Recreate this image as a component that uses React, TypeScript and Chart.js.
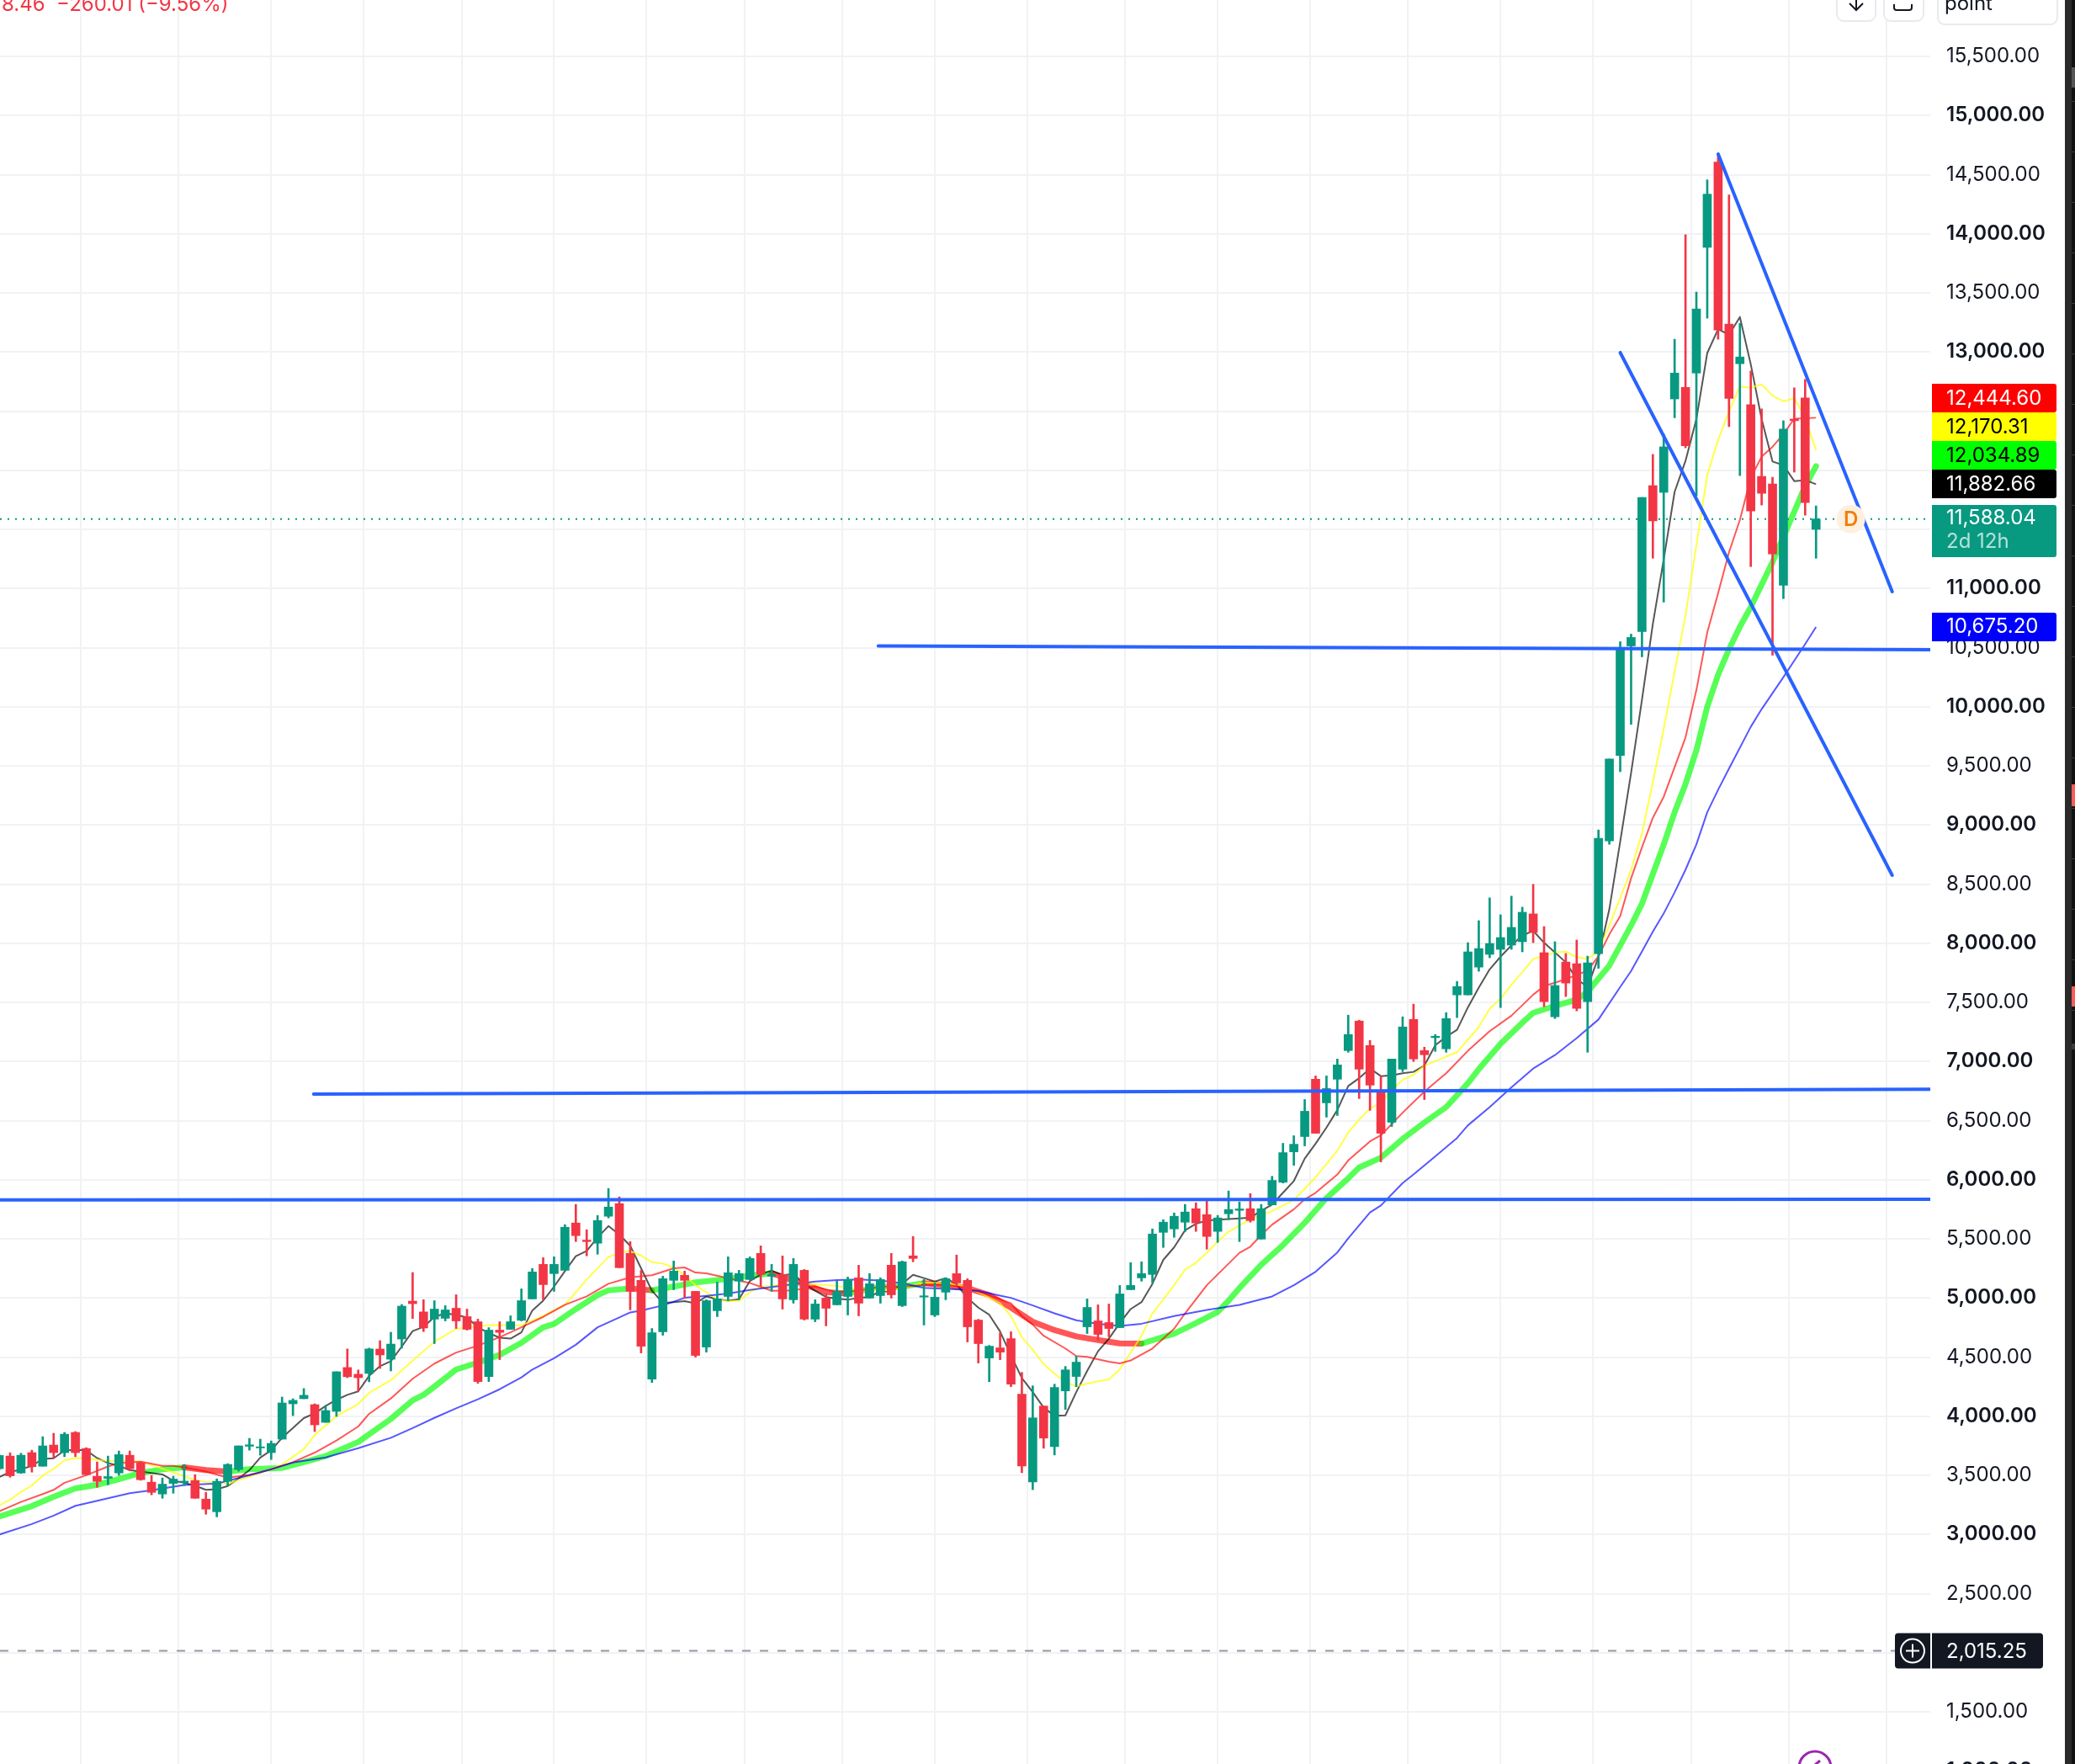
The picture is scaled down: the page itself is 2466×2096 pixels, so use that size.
import React, { useEffect, useRef } from "react";
import { Chart, registerables } from "chart.js";

Chart.register(...registerables);

// Candles, starting at bar index -1
const firstBar = -1;
const opens = [
  3556,3663,3520,3692,3577,3756,3692,3863,3727,3492,
  3475,3520,3670,3606,3442,3342,3432,3439,3456,3299,
  3192,3449,3549,3746,3732,3692,3806,4105,4148,4098,
  3948,4041,4412,4355,4362,4568,4482,4653,4973,
  4882,4821,4828,4913,4842,4799,4335,4728,4735,4811,
  4992,5284,5206,5234,5634,5489,5463,5691,5798,5377,
  5149,4314,4714,5149,5192,5056,4585,4892,5013,5142,
  5156,5377,5184,5199,4985,5234,4821,4999,4942,5013,
  5170,4999,5020,5277,4935,5356,5008,4856,5049,5206,
  5149,4813,4492,4578,4656,4186,3444,4086,3743,4214,
  4336,4756,4806,4792,4749,5070,5170,5199,5555,5584,
  5641,5755,5705,5563,5712,5741,5755,5498,5787,5979,
  6236,6365,6850,6650,6850,7092,7342,7135,6750,6486,
  6935,7356,7092,7202,7107,7563,7563,7798,7906,7948,
  7984,8013,8248,7920,7378,7841,7827,7506,7912,8866,
  9587,10514,10636,11870,11813,12603,12701,12822,13885,14606,
  13236,12901,12555,11948,11884,11028,12433,12612,11500,
];
const highs = [
  3675,3691,3687,3713,3827,3856,3863,3870,3734,3613,
  3663,3706,3706,3613,3499,3478,3492,3592,3506,3356,
  3470,3599,3749,3813,3806,3791,4162,4148,4234,4105,
  4091,4376,4569,4391,4576,4639,4710,4945,5215,
  4985,4977,4935,5027,4906,4821,4749,4799,4849,5077,
  5249,5341,5348,5620,5791,5577,5698,5926,5855,5477,
  5234,4742,5184,5313,5227,5056,4985,5134,5348,5234,
  5348,5441,5284,5356,5334,5241,4985,5034,5142,5177,
  5277,5206,5170,5377,5313,5520,5156,5127,5170,5363,
  5163,4820,4599,4706,4714,4371,4257,4086,4271,4421,
  4507,4992,4942,4949,5106,5299,5306,5584,5662,5719,
  5791,5805,5819,5698,5905,5812,5883,5791,6029,6308,
  6372,6678,6878,6878,7021,7392,7349,7178,6878,7021,
  7378,7485,7121,7228,7413,7677,8005,8191,8384,8241,
  8398,8305,8498,8141,8013,7913,8027,7891,8958,9558,
  10550,10614,11770,12134,12305,13108,13992,13507,14456,14668,
  14328,13243,12840,12519,11941,12419,12697,12769,11698,
];
const lows = [
  3545,3484,3516,3527,3577,3649,3658,3658,3501,3399,
  3420,3499,3537,3458,3335,3306,3349,3413,3306,3171,
  3149,3409,3535,3713,3670,3634,3806,4005,4148,3870,
  3948,3998,4326,4212,4291,4404,4383,4575,4826,
  4716,4614,4806,4742,4728,4278,4293,4478,4735,4806,
  4992,4985,5056,5234,5477,5356,5370,5677,5256,4899,
  4535,4285,4685,5070,4999,4500,4542,4842,4977,4985,
  5156,5099,5056,4906,4956,4813,4799,4764,4942,4856,
  4849,4999,4956,4999,4927,5306,4771,4842,4985,5108,
  4628,4450,4292,4478,4250,3522,3379,3729,3672,4057,
  4250,4699,4642,4671,4749,5070,5142,5127,5427,5513,
  5560,5563,5413,5470,5662,5477,5641,5498,5787,5972,
  6122,6286,6393,6529,6543,7078,6686,6586,6151,6450,
  6914,7000,6678,7085,7078,7371,7563,7763,7877,7456,
  7948,7927,8005,7463,7363,7549,7428,7078,7788,8837,
  9451,9851,10422,11256,10885,12444,12190,11784,13286,13108,
  12369,11955,11185,11706,10436,10914,11984,11620,11256,
];
const closes = [
  3668,3496,3670,3573,3749,3692,3848,3692,3506,3449,
  3489,3675,3556,3463,3356,3425,3468,3451,3306,3214,
  3449,3592,3749,3758,3741,3770,4112,4134,4177,3927,
  4048,4376,4334,4326,4569,4518,4610,4931,4952,
  4746,4906,4899,4806,4735,4293,4728,4709,4799,4977,
  5220,5113,5284,5598,5527,5477,5655,5769,5256,5056,
  4592,4706,5163,5227,5149,4514,4977,4992,5213,5206,
  5334,5199,5199,4992,5284,4821,4949,4913,5056,5156,
  4956,5120,5156,5027,5306,5334,5018,5006,5163,5127,
  4756,4614,4592,4542,4271,3579,3986,3815,4243,4392,
  4457,4920,4692,4742,5034,5106,5206,5541,5641,5691,
  5727,5634,5520,5677,5748,5753,5655,5755,5994,6229,
  6300,6579,6393,6771,6971,7228,6935,6800,6393,7021,
  7292,7021,7057,7213,7363,7634,7927,7955,7998,8048,
  8134,8262,8091,7506,7642,7663,7449,7834,8887,9558,
  10500,10586,11770,11572,12198,12822,12207,13364,14335,13186,
  12608,12958,11656,11805,11292,12348,12419,11727,11588,
];

// Moving averages as [bar, value]
const blueMA = [[-1,2999],[2,3088],[4,3159],[6,3242],[9,3306],[11,3349],[13,3373],[16,3418],[19,3430],[20,3454],[23,3525],[26,3608],[29,3651],[32,3730],[35,3818],[37,3900],[39,3986],[41,4067],[43,4143],[45,4228],[47,4328],[48,4395],[50,4490],[52,4604],[54,4752],[56,4835],[57,4878],[58,4894],[60,4937],[62,5001],[64,5018],[66,5037],[68,5068],[70,5092],[72,5115],[74,5139],[76,5151],[78,5156],[80,5148],[82,5125],[84,5085],[87,5073],[89,5061],[91,5020],[92,5001],[94,4937],[96,4870],[98,4811],[100,4782],[102,4763],[104,4782],[107,4847],[110,4899],[113,4942],[116,5013],[118,5108],[120,5222],[122,5385],[123,5505],[125,5723],[126,5782],[128,5972],[129,6044],[131,6198],[133,6353],[134,6460],[136,6614],[138,6781],[140,6940],[142,7054],[144,7197],[146,7355],[148,7630],[149,7765],[150,7931],[151,8098],[152,8252],[153,8430],[154,8621],[155,8835],[156,9108],[157,9298],[158,9477],[160,9830],[161,9980],[162,10115],[163,10250],[164,10390],[165,10530],[166,10675]];

const thickMA = [[-1,3152],[2,3240],[4,3318],[6,3390],[8,3420],[10,3468],[12,3520],[14,3551],[16,3568],[18,3544],[20,3532],[22,3551],[25,3563],[27,3611],[29,3663],[32,3782],[35,3977],[37,4134],[38,4180],[39,4250],[41,4395],[43,4454],[45,4519],[47,4621],[49,4752],[50,4780],[52,4906],[54,5025],[55,5065],[57,5080],[59,5065],[61,5096],[63,5132],[66,5161],[68,5191],[70,5208],[71,5180],[73,5115],[75,5049],[77,5037],[80,5096],[82,5096],[84,5125],[86,5108],[88,5084],[90,5025],[92,4918],[94,4799],[96,4728],[98,4675],[100,4644],[102,4616],[104,4614],[107,4699],[109,4787],[111,4882],[112,4977],[113,5084],[115,5280],[117,5448],[119,5636],[121,5845],[123,6012],[124,6103],[126,6186],[128,6345],[130,6484],[132,6614],[134,6816],[135,6935],[137,7149],[139,7328],[140,7411],[142,7470],[144,7523],[145,7589],[147,7812],[149,8150],[150,8335],[151,8585],[152,8835],[153,9108],[154,9346],[155,9631],[156,10000],[157,10272],[158,10486],[159,10676],[160,10843],[161,11033],[162,11223],[163,11437],[164,11651],[165,11865],[166,12035]];

const yellowMA = [[-1,3247],[0,3294],[1,3361],[2,3413],[3,3497],[4,3556],[5,3627],[6,3646],[7,3644],[9,3620],[10,3627],[12,3615],[14,3556],[15,3525],[17,3461],[18,3444],[19,3449],[20,3425],[21,3461],[23,3520],[25,3592],[27,3722],[28,3841],[30,4001],[32,4103],[33,4198],[35,4305],[37,4470],[39,4630],[41,4740],[44,4771],[47,4768],[49,4847],[51,4942],[53,5156],[55,5346],[56,5382],[57,5398],[58,5358],[59,5303],[60,5291],[61,5256],[62,5192],[63,5108],[64,5049],[65,4989],[66,4973],[67,4977],[68,5049],[69,5096],[70,5101],[72,5120],[74,5115],[76,5101],[78,5072],[80,5060],[82,5084],[84,5132],[86,5125],[88,5096],[89,5049],[91,4954],[92,4847],[93,4668],[94,4561],[95,4442],[96,4359],[97,4288],[98,4252],[99,4276],[100,4295],[101,4312],[102,4395],[103,4538],[104,4680],[105,4870],[106,4989],[107,5108],[108,5239],[109,5298],[110,5382],[111,5477],[112,5560],[114,5667],[115,5703],[116,5734],[118,5829],[120,6020],[122,6246],[123,6400],[124,6507],[125,6602],[126,6650],[127,6757],[128,6845],[129,6888],[130,6964],[132,7042],[133,7078],[134,7185],[135,7292],[136,7447],[137,7530],[138,7649],[139,7756],[140,7867],[141,7891],[142,7922],[143,7929],[144,7882],[145,7867],[146,7934],[147,8148],[148,8383],[149,8621],[150,8930],[151,9360],[152,9815],[153,10295],[154,10771],[155,11366],[156,11960],[157,12257],[158,12495],[159,12709],[160,12697],[161,12726],[162,12631],[163,12583],[164,12609],[165,12447],[166,12170]];

const redMA = [[-1,3195],[1,3275],[3,3342],[4,3377],[5,3437],[7,3501],[9,3575],[10,3604],[12,3615],[14,3580],[15,3580],[16,3568],[18,3532],[20,3480],[22,3504],[24,3551],[26,3611],[28,3692],[30,3794],[32,3913],[33,4020],[35,4150],[37,4317],[39,4445],[41,4538],[43,4597],[45,4668],[47,4752],[49,4840],[51,4942],[53,5013],[55,5120],[57,5175],[59,5192],[61,5251],[62,5258],[63,5215],[64,5208],[66,5168],[68,5127],[70,5061],[72,5065],[74,5096],[76,5049],[78,5060],[80,5096],[82,5096],[84,5108],[86,5113],[88,5084],[90,5025],[92,4954],[93,4847],[94,4775],[95,4680],[97,4573],[98,4509],[99,4502],[101,4461],[102,4447],[103,4471],[105,4573],[107,4740],[108,4870],[110,5108],[113,5382],[114,5434],[115,5532],[116,5620],[118,5750],[119,5834],[120,5889],[122,6044],[123,6163],[125,6324],[126,6376],[128,6567],[130,6745],[132,6900],[134,7090],[136,7256],[138,7387],[140,7565],[141,7637],[143,7696],[144,7732],[145,7768],[146,7890],[147,8074],[148,8230],[149,8549],[150,8811],[151,9061],[152,9239],[153,9488],[154,9740],[155,10140],[156,10628],[157,10961],[158,11306],[159,11580],[160,11936],[161,12115],[162,12198],[163,12305],[164,12436],[165,12440],[166,12444]];

const blackMA = [[-1,3485],[0,3527],[1,3551],[2,3580],[3,3639],[4,3644],[5,3710],[6,3715],[7,3711],[8,3646],[9,3604],[10,3580],[11,3544],[12,3532],[13,3520],[14,3508],[15,3454],[16,3437],[17,3413],[18,3377],[19,3382],[20,3409],[21,3473],[22,3544],[23,3651],[24,3711],[25,3818],[26,3901],[27,3984],[28,4024],[29,4086],[30,4139],[31,4181],[32,4210],[33,4341],[34,4423],[35,4465],[36,4589],[37,4720],[38,4755],[39,4840],[40,4870],[41,4858],[42,4835],[43,4752],[44,4704],[45,4664],[46,4656],[47,4709],[48,4894],[49,4977],[50,5096],[51,5227],[52,5353],[53,5398],[54,5512],[55,5608],[56,5536],[57,5441],[58,5251],[59,5061],[60,4958],[61,4965],[62,4973],[63,4954],[64,5013],[65,4989],[66,4977],[67,4989],[68,5144],[69,5199],[70,5232],[71,5192],[72,5203],[73,5120],[74,5061],[75,5008],[76,4994],[77,4985],[78,5001],[79,5008],[80,5060],[81,5049],[82,5120],[83,5196],[84,5168],[85,5139],[86,5168],[87,5115],[88,5001],[89,4918],[90,4858],[91,4716],[92,4514],[93,4323],[94,4204],[95,4074],[96,4003],[97,4007],[98,4204],[99,4383],[100,4549],[101,4656],[102,4787],[103,4906],[104,4965],[105,5120],[106,5322],[107,5429],[108,5572],[109,5627],[110,5655],[111,5662],[113,5672],[114,5679],[115,5737],[116,5790],[117,5890],[118,5989],[119,6179],[120,6305],[121,6441],[122,6590],[123,6793],[124,6859],[125,6940],[126,6876],[127,6883],[128,6900],[129,6912],[130,6966],[131,7137],[132,7209],[133,7268],[134,7458],[135,7625],[136,7779],[137,7886],[138,7982],[139,8065],[140,8105],[141,8005],[142,7922],[143,7839],[144,7696],[145,7632],[146,7880],[147,8288],[148,8860],[149,9440],[150,10060],[151,10700],[152,11247],[153,11817],[154,12079],[155,12432],[156,12991],[157,13193],[158,13146],[159,13296],[160,12896],[161,12432],[162,12074],[163,12043],[164,11908],[165,11917],[166,11882]];

// Hand-drawn trend lines as [bar, price]
const fallingTop = [[157,14674],[173,10973]];
const fallingLow = [[148,12995],[173,8575]];
const shelfHigh = [[79.8,10514],[177,10482]];
const shelfMid = [[27.9,6724],[177,6765]];
const shelfLow = [[-3,5830],[177,5835]];

const lastPrice = 11588.04;
const markPrice = 2015.25;
const xBounds = [-0.928, 176.5];
const yBounds = [318.6, 16261.6];
const monthBars = [2,11,20,28,37,46,54,63,72,81,89,98,107,115,124,133,141,150,159,168];
const priceTicks = [500,1000,1500,2000,2500,3000,3500,4000,4500,5000,5500,6000,6500,7000,7500,8000,8500,9000,9500,10000,10500,11000,11500,12000,12500,13000,13500,14000,14500,15000,15500,16000];
const priceTags = [
  { text: "12,444.60", bg: "#ff0000", fg: "#ffffff" },
  { text: "12,170.31", bg: "#ffff00", fg: "#000000" },
  { text: "12,034.89", bg: "#00ff00", fg: "#000000" },
  { text: "11,882.66", bg: "#000000", fg: "#ffffff" },
];

const UP = "#089981";
const DOWN = "#F23645";
const FONT = "Inter";

const toXY = (rows: number[][]) => rows.map(([x, y]) => ({ x, y }));

function roundRight(c: CanvasRenderingContext2D, x: number, y: number, w: number, h: number, r: number) {
  c.beginPath();
  c.roundRect(x, y, w, h, [0, r, r, 0]);
  c.fill();
}

const overlay = {
  id: "overlay",
  afterDraw(chart: any) {
    const c: CanvasRenderingContext2D = chart.ctx;
    const ys = chart.scales.y;
    const xs = chart.scales.x;
    c.save();
    c.translate(0, 40);
    c.textBaseline = "middle";
    c.textAlign = "left";
    c.font = `400 24px ${FONT}`;

    // stacked price tags
    priceTags.forEach((t, i) => {
      c.fillStyle = t.bg;
      roundRight(c, 2296, 456 + i * 34, 148, 34, 3);
      c.fillStyle = t.fg;
      c.fillText(t.text, 2313, 474 + i * 34);
    });
    c.fillStyle = UP;
    roundRight(c, 2296, 600, 148, 62, 3);
    c.fillStyle = "#ffffff";
    c.fillText("11,588.04", 2313, 616);
    c.fillStyle = "rgba(255,255,255,0.7)";
    c.fillText("2d 12h", 2313, 644);
    c.fillStyle = "#0000ff";
    roundRight(c, 2296, 728, 148, 34, 3);
    c.fillStyle = "#ffffff";
    c.fillText("10,675.20", 2313, 745);

    // mark tag
    const my = ys.getPixelForValue(markPrice) - 40;
    c.fillStyle = "#131722";
    c.beginPath();
    c.roundRect(2252, my - 21, 42, 42, [4, 0, 0, 4]);
    c.fill();
    c.beginPath();
    c.roundRect(2296, my - 21, 132, 42, [0, 4, 4, 0]);
    c.fill();
    c.fillStyle = "#ffffff";
    c.fillText("2,015.25", 2313, my + 1);
    c.strokeStyle = "#ffffff";
    c.lineWidth = 2;
    c.beginPath();
    c.arc(2273, my, 14, 0, Math.PI * 2);
    c.moveTo(2265, my);
    c.lineTo(2281, my);
    c.moveTo(2273, my - 8);
    c.lineTo(2273, my + 8);
    c.stroke();

    // D badge
    const dx = xs.getPixelForValue(169.2);
    const dy = ys.getPixelForValue(lastPrice) - 40;
    c.fillStyle = "#FDF0E1";
    c.beginPath();
    c.arc(dx, dy, 17, 0, Math.PI * 2);
    c.fill();
    c.fillStyle = "#F57C00";
    c.font = `600 24px ${FONT}`;
    c.textAlign = "center";
    c.fillText("D", dx, dy + 1);
    c.textAlign = "left";

    // clipped header text
    c.font = `400 24px ${FONT}`;
    c.fillStyle = DOWN;
    c.textBaseline = "alphabetic";
    c.fillText("8.46  \u2212260.01 (\u22129.56%)", 2, 13);

    // clipped top buttons
    c.strokeStyle = "#E8EAEE";
    c.lineWidth = 2;
    c.fillStyle = "#ffffff";
    const boxes = [[2183, 46, 25], [2239, 47, 25], [2303, 142, 29]];
    boxes.forEach(([x, w, b]) => {
      c.beginPath();
      c.roundRect(x, -20, w, b + 20, 8);
      c.fill();
      c.stroke();
    });
    c.fillStyle = "#131722";
    c.fillText("point", 2311, 12);
    c.strokeStyle = "#131722";
    c.beginPath();
    c.moveTo(2206, -8);
    c.lineTo(2206, 12);
    c.moveTo(2198, 4);
    c.lineTo(2206, 12);
    c.lineTo(2214, 4);
    c.moveTo(2251, 5);
    c.lineTo(2251, 9);
    c.quadraticCurveTo(2251, 12, 2254, 12);
    c.lineTo(2269, 12);
    c.quadraticCurveTo(2272, 12, 2272, 9);
    c.lineTo(2272, 5);
    c.stroke();

    // clipped purple circle
    c.strokeStyle = "#9C27B0";
    c.lineWidth = 3;
    c.beginPath();
    c.arc(2157, 2100, 19, 0, Math.PI * 2);
    c.moveTo(2163, 2092);
    c.lineTo(2157, 2097);
    c.stroke();

    // neighbouring window strip
    c.fillStyle = "#2a2a2a";
    c.fillRect(2454, 0, 8, 2096);
    c.fillStyle = "#111111";
    c.fillRect(2462, 0, 4, 2096);
    c.fillStyle = "#3a3a3a";
    for (let y = 120; y < 1240; y += 60) c.fillRect(2462, y, 4, 1);
    c.fillStyle = "#555555";
    c.fillRect(2462, 80, 4, 24);
    c.fillStyle = "#ff5a5a";
    c.fillRect(2462, 932, 4, 26);
    c.fillRect(2462, 1172, 4, 24);
    c.fillStyle = "#3a3a3a";
    c.fillRect(2462, 1240, 4, 7);
    c.restore();
  },
};

export default function App() {
  const ref = useRef<HTMLCanvasElement>(null);

  useEffect(() => {
    const bars = opens.map((_, i) => i + firstBar);
    const colors = opens.map((o, i) => (closes[i] >= o ? UP : DOWN));
    const thin = (label: string, rows: number[][], color: string) => ({
      type: "line",
      label,
      data: toXY(rows),
      borderColor: color,
      borderWidth: 2,
      pointRadius: 0,
      tension: 0,
      borderJoinStyle: "round",
      order: 10,
    });
    const trend = (label: string, rows: number[][]) => ({
      type: "line",
      label,
      data: toXY(rows),
      borderColor: "#2962FF",
      borderWidth: 4,
      pointRadius: 0,
      tension: 0,
      borderCapStyle: "round",
      order: 1,
    });
    const levelEnd = xBounds[1];
    const chart = new Chart(ref.current as HTMLCanvasElement, {
      type: "bar",
      data: {
        datasets: [
          {
            type: "line",
            label: "MA thick",
            data: toXY(thickMA),
            borderColor: "rgba(0,255,0,0.66)",
            borderWidth: 7,
            pointRadius: 0,
            tension: 0,
            borderCapStyle: "round",
            borderJoinStyle: "round",
            order: 12,
            segment: {
              borderColor: (s: any) => (s.p1.parsed.y < s.p0.parsed.y ? "rgba(255,0,0,0.66)" : "rgba(0,255,0,0.66)"),
            },
          },
          thin("MA blue", blueMA, "rgba(0,0,255,0.66)"),
          thin("MA red", redMA, "rgba(255,0,0,0.66)"),
          thin("MA yellow", yellowMA, "rgba(255,255,0,0.72)"),
          thin("MA black", blackMA, "rgba(0,0,0,0.66)"),
          {
            type: "bar",
            label: "wicks",
            data: bars.map((x, i) => ({ x, y: [lows[i], highs[i]] })),
            backgroundColor: colors,
            barThickness: 2,
            grouped: false,
            borderWidth: 0,
            order: 6,
          },
          {
            type: "bar",
            label: "bodies",
            data: bars.map((x, i) => ({ x, y: [opens[i], closes[i]] })),
            backgroundColor: colors,
            barThickness: 10,
            grouped: false,
            borderWidth: 0,
            order: 5,
          },
          {
            type: "line",
            label: "last",
            data: [{ x: xBounds[0], y: lastPrice }, { x: levelEnd, y: lastPrice }],
            borderColor: UP,
            borderWidth: 2,
            borderDash: [2, 7],
            pointRadius: 0,
            order: 8,
          },
          {
            type: "line",
            label: "mark",
            data: [{ x: xBounds[0], y: markPrice }, { x: levelEnd, y: markPrice }],
            borderColor: "#9598A1",
            borderWidth: 2,
            borderDash: [10, 11],
            pointRadius: 0,
            order: 8,
          },
          trend("fall top", fallingTop),
          trend("fall low", fallingLow),
          trend("shelf high", shelfHigh),
          trend("shelf mid", shelfMid),
          trend("shelf low", shelfLow),
        ] as any,
      },
      options: {
        animation: false,
        responsive: false,
        devicePixelRatio: 1,
        events: [],
        layout: { padding: 0 },
        plugins: { legend: { display: false }, tooltip: { enabled: false } },
        scales: {
          x: {
            type: "linear",
            min: xBounds[0],
            max: xBounds[1],
            offset: false,
            afterBuildTicks: (s: any) => {
              s.ticks = monthBars.map((value) => ({ value }));
            },
            afterFit: (s: any) => {
              s.height = 0;
            },
            ticks: { display: false },
            grid: { color: "#F1F2F4", lineWidth: 2, drawTicks: false },
            border: { display: false },
          },
          y: {
            type: "linear",
            position: "right",
            min: yBounds[0],
            max: yBounds[1],
            afterBuildTicks: (s: any) => {
              s.ticks = priceTicks.map((value) => ({ value }));
            },
            afterFit: (s: any) => {
              s.width = 172;
              s.paddingTop = 0;
              s.paddingBottom = 0;
            },
            ticks: {
              autoSkip: false,
              padding: 19,
              color: "#131722",
              font: (ctx: any) => ({
                family: FONT,
                size: 24,
                weight: ctx.tick && ctx.tick.value % 1000 === 0 ? "600" : "400",
              }),
              callback: (v: any) =>
                Number(v).toLocaleString("en-US", { minimumFractionDigits: 2, maximumFractionDigits: 2 }),
            },
            grid: { color: "#F1F2F4", lineWidth: 2, drawTicks: false },
            border: { display: false },
          },
        },
      } as any,
      plugins: [overlay as any],
    });
    return () => chart.destroy();
  }, []);

  return (
    <div style={{ position: "fixed", left: 0, top: 0, width: 2466, height: 2096, overflow: "hidden", background: "#fff" }}>
      <canvas ref={ref} width={2466} height={2240} style={{ position: "absolute", left: 0, top: -40, width: 2466, height: 2240, display: "block" }} />
    </div>
  );
}
